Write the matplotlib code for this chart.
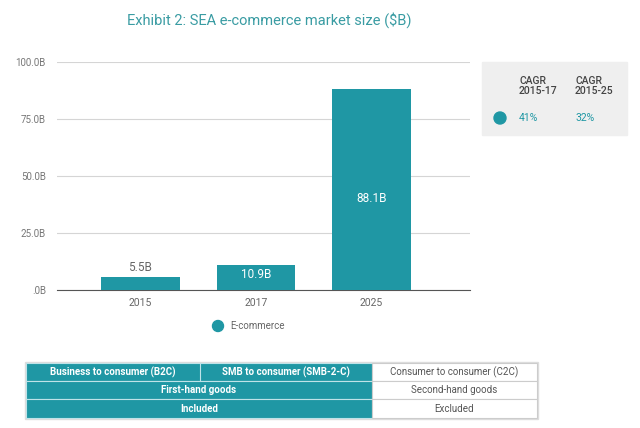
import matplotlib.pyplot as plt
from matplotlib.patches import Rectangle, Circle

plt.rcParams['font.family'] = ['Roboto', 'DejaVu Sans']

years = ['2015', '2017', '2025']
market = [5.5, 10.9, 88.1]
bar_labels = ['5.5B', '10.9B', '88.1B']
yticks = [0, 25, 50, 75, 100]
ytick_labels = ['.0B', '25.0B', '50.0B', '75.0B', '100.0B']
cagr_heads = ['CAGR\n2015-17', 'CAGR\n2015-25']
cagr_vals = ['41%', '32%']
row1 = ['Business to consumer (B2C)', 'SMB to consumer (SMB-2-C)', 'Consumer to consumer (C2C)']
row2 = ['First-hand goods', 'Second-hand goods']
row3 = ['Included', 'Excluded']

teal = '#1f97a4'

fig = plt.figure(figsize=(6.4, 4.28), dpi=100)
fig.patch.set_facecolor('white')

# overlay in pixel coords for decorations
ov = fig.add_axes([0, 0, 1, 1])
ov.set_xlim(0, 640)
ov.set_ylim(428, 0)
ov.axis('off')

ax = fig.add_axes([57/640, 1-290/428, 413/640, 228/428])
x = range(len(years))
ax.bar(x, market, width=0.68, color=teal, zorder=3)
ax.set_ylim(0, 100)
ax.set_xlim(-0.72, 2.85)
ax.set_yticks(yticks)
ax.set_yticklabels(ytick_labels, fontsize=7, color='#777777')
ax.set_xticks(list(x))
ax.set_xticklabels(years, fontsize=7.5, color='#666666')
ax.tick_params(length=0, pad=6)
ax.tick_params(axis='y', pad=8)
ax.grid(axis='y', color='#d5d5d5', linewidth=0.8, zorder=0)
for s in ['top', 'right', 'left']:
    ax.spines[s].set_visible(False)
ax.spines['bottom'].set_color('#555555')
ax.spines['bottom'].set_linewidth(0.8)

# value labels
ax.text(0, market[0] + 1.5, bar_labels[0], ha='center', va='bottom', fontsize=8.5, color='#666666')
ax.text(1, market[1] - 1.3, bar_labels[1], ha='center', va='top', fontsize=8.5, color='white')
ax.text(2, market[2] / 2 - 4, bar_labels[2], ha='center', va='center', fontsize=8.5, color='white')

# title
ov.text(269, 20, 'Exhibit 2: SEA e-commerce market size ($B)', ha='center', va='center',
        fontsize=10.5, color='#3a9ca3')

# legend
ov.add_patch(Circle((218, 326), 5.5, color=teal))
ov.text(230, 326, 'E-commerce', ha='left', va='center', fontsize=7, color='#666666')

# CAGR box
ov.add_patch(Rectangle((482, 62), 145, 73, color='#efefef', zorder=0))
ov.text(519, 86, cagr_heads[0], ha='left', va='center', fontsize=7.5, color='#444444',
        fontweight='medium', linespacing=1.1)
ov.text(575, 86, cagr_heads[1], ha='left', va='center', fontsize=7.5, color='#444444',
        fontweight='medium', linespacing=1.1)
ov.add_patch(Circle((500, 118), 6, color=teal))
ov.text(519, 118, cagr_vals[0], ha='left', va='center', fontsize=7.5, color=teal)
ov.text(575, 118, cagr_vals[1], ha='left', va='center', fontsize=7.5, color=teal)

# table
x0, x1, x2, x3 = 26, 200, 372, 537
ys = [363, 381, 399, 418]
line_c = '#bfe3e8'
ov.add_patch(Rectangle((x0 - 1, ys[0] - 1), x3 - x0 + 2, ys[3] - ys[0] + 2, facecolor='none',
                       edgecolor='#dddddd', linewidth=1))
for r in range(3):
    h = ys[r + 1] - ys[r]
    ov.add_patch(Rectangle((x0, ys[r]), x2 - x0, h, facecolor=teal, edgecolor=line_c, linewidth=0.8))
    ov.add_patch(Rectangle((x2, ys[r]), x3 - x2, h, facecolor='white', edgecolor='#cccccc', linewidth=0.8))
ov.plot([x1, x1], [ys[0], ys[1]], color=line_c, linewidth=0.8)

kw_in = dict(ha='center', va='center', fontsize=7, color='white', fontweight='bold')
kw_out = dict(ha='center', va='center', fontsize=7, color='#555555')
ym = [(ys[i] + ys[i + 1]) / 2 for i in range(3)]
ov.text((x0 + x1) / 2, ym[0], row1[0], **kw_in)
ov.text((x1 + x2) / 2, ym[0], row1[1], **kw_in)
ov.text((x2 + x3) / 2, ym[0], row1[2], **kw_out)
ov.text((x0 + x2) / 2, ym[1], row2[0], **kw_in)
ov.text((x2 + x3) / 2, ym[1], row2[1], **kw_out)
ov.text((x0 + x2) / 2, ym[2], row3[0], **kw_in)
ov.text((x2 + x3) / 2, ym[2], row3[1], **kw_out)

plt.savefig('out.png', dpi=100)
